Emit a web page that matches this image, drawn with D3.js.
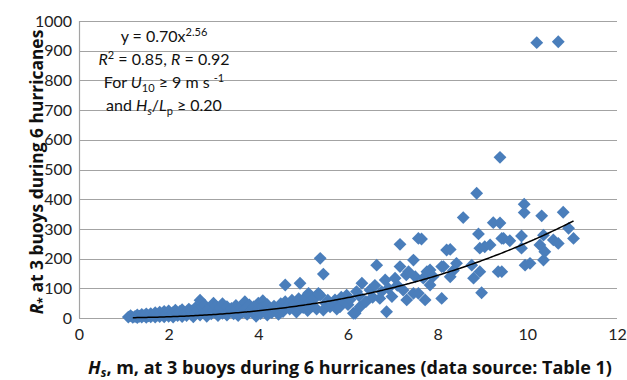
<!DOCTYPE html>
<html>
<head>
<meta charset="utf-8">
<script src="https://cdn.jsdelivr.net/npm/d3@7"></script>
<style>
  body { margin: 0; background: #fff; }
  svg text { font-family: Lato, "Open Sans", sans-serif; }
</style>
</head>
<body>
<div id="container"></div>
<script>
// Hs (m) and R*, in pairs
var hs = [
  1.10,1.15,1.20,1.25,1.30,1.30,1.35,1.40,1.40,1.45,1.50,1.50,1.55,1.60,1.60,1.65,1.70,1.70,1.75,1.80,
  1.80,1.85,1.90,1.90,1.95,2.00,2.00,2.05,2.10,2.10,2.15,2.20,2.20,2.25,2.30,2.30,2.35,2.40,2.40,2.45,
  2.50,2.50,2.55,2.60,2.60,2.70,2.65,2.70,2.75,2.80,2.80,2.85,2.90,2.95,3.00,3.00,3.05,3.10,3.10,3.15,
  3.20,3.20,3.25,3.30,3.30,3.35,3.40,3.45,3.50,3.50,3.55,3.60,3.65,3.70,3.70,3.75,3.80,3.85,3.90,3.90,
  3.95,4.00,4.00,4.05,4.10,4.10,4.15,4.20,4.20,4.25,4.30,4.35,4.40,4.45,4.50,4.50,
  4.60,4.55,4.60,4.65,4.70,4.75,4.80,4.85,4.93,4.90,5.00,5.00,5.05,5.12,5.10,5.15,5.20,5.25,5.30,5.34,
  5.38,5.45,5.45,5.38,5.50,5.60,5.55,5.71,5.65,5.75,5.82,5.85,5.90,5.97,6.00,
  6.05,6.12,6.16,6.19,6.27,6.31,6.25,6.40,6.49,6.55,6.64,6.60,6.71,6.75,6.83,6.86,6.90,6.98,7.05,7.10,
  7.16,7.16,7.23,7.30,7.31,7.35,7.46,7.46,7.50,7.57,7.57,7.64,7.68,7.72,7.76,7.83,7.83,7.90,
  8.09,8.09,8.13,8.20,8.28,8.28,8.42,8.35,8.57,8.76,8.80,8.87,8.91,8.94,8.94,8.98,9.05,9.17,9.24,9.35,
  9.39,9.39,9.43,9.43,9.47,9.61,9.87,9.87,9.93,9.93,9.95,10.06,10.21,10.28,10.32,10.36,10.36,10.39,10.58,10.69,
  10.69,10.80,10.92,11.03
];
var rstar = [
  3,8,2,5,10,1,6,12,3,8,2,14,7,4,15,9,3,18,10,5,
  20,12,4,22,14,6,24,11,3,19,26,8,15,22,5,28,14,20,8,30,
  12,24,4,18,35,60,26,10,38,44,20,6,30,14,50,26,40,8,20,34,
  48,16,28,10,38,22,32,14,42,26,8,36,20,55,30,12,44,26,18,38,
  6,50,30,15,58,36,24,10,45,30,18,40,28,12,48,34,
  111,22,55,40,30,60,45,20,117,65,49,35,70,83,25,55,40,65,30,83,
  201,148,27,77,50,38,60,61,45,30,38,70,55,77,45,
  62,16,16,89,38,117,75,55,94,70,178,110,66,89,128,21,100,72,134,110,
  248,173,94,145,61,156,195,83,139,268,83,266,134,61,156,162,111,140,
  66,173,173,229,231,139,184,160,338,178,134,420,283,235,156,85,240,246,321,156,
  320,541,268,156,268,260,276,235,383,355,178,184,927,246,344,279,195,223,263,930,
  251,356,302,268
];
var xTicks = [0, 2, 4, 6, 8, 10, 12];
var yTicks = [0, 100, 200, 300, 400, 500, 600, 700, 800, 900, 1000];
// power fit shown on the chart: y = a x^b
var fitA = 0.70, fitB = 2.56;
var fitRange = [1.2, 11.03];

var W = 627, H = 380;
var margin = {left: 79, right: 10, top: 21, bottom: 62};

var svg = d3.select("#container").append("svg")
  .attr("width", W).attr("height", H);

var x = d3.scaleLinear().domain([0, 12]).range([margin.left, W - margin.right]);
var y = d3.scaleLinear().domain([0, 1000]).range([H - margin.bottom, margin.top]);

// gridlines
svg.append("g")
  .selectAll("line")
  .data(yTicks)
  .enter().append("line")
  .attr("x1", x(0)).attr("x2", x(12))
  .attr("y1", function(d) { return Math.round(y(d)) + 0.5; })
  .attr("y2", function(d) { return Math.round(y(d)) + 0.5; })
  .attr("stroke", "#a3a3a3")
  .attr("stroke-width", 1.2);

// left axis line
svg.append("line")
  .attr("x1", Math.round(x(0)) + 0.5).attr("x2", Math.round(x(0)) + 0.5)
  .attr("y1", y(1000)).attr("y2", y(0))
  .attr("stroke", "#a3a3a3").attr("stroke-width", 1.2);

// tick labels
var yAxis = d3.axisLeft(y).tickValues(yTicks).tickSize(0).tickPadding(7).tickFormat(d3.format("d"));
var gy = svg.append("g").attr("transform", "translate(" + x(0) + ",0)").call(yAxis);
gy.select(".domain").remove();
gy.selectAll("text").style("font-size", "16px").attr("fill", "#222");

var xAxis = d3.axisBottom(x).tickValues(xTicks).tickSize(0).tickPadding(11);
var gx = svg.append("g").attr("transform", "translate(0," + y(0) + ")").call(xAxis);
gx.select(".domain").remove();
gx.selectAll("text").style("font-size", "16px").attr("fill", "#222");

// points
var pts = hs.map(function(d, i) { return [d, rstar[i]]; });
svg.append("g")
  .selectAll("path")
  .data(pts)
  .enter().append("path")
  .attr("d", d3.symbol().type(d3.symbolDiamond2).size(105))
  .attr("transform", function(d) { return "translate(" + x(d[0]) + "," + y(d[1]) + ")"; })
  .attr("fill", "#4a7ebb");

// fit curve
var fitX = d3.range(fitRange[0], fitRange[1], 0.05).concat([fitRange[1]]);
var line = d3.line()
  .x(function(d) { return x(d); })
  .y(function(d) { return y(fitA * Math.pow(d, fitB)); })
  .curve(d3.curveMonotoneX);
svg.append("path")
  .datum(fitX)
  .attr("d", line)
  .attr("fill", "none")
  .attr("stroke", "#000")
  .attr("stroke-width", 1.5);

// annotation
var ann = svg.append("text")
  .attr("text-anchor", "middle")
  .style("font-size", "16px")
  .attr("fill", "#111");
var cx = 164;
var l1 = ann.append("tspan").attr("x", cx).attr("y", 42);
l1.append("tspan").text("y = 0.70x");
l1.append("tspan").attr("dy", -6).style("font-size", "11px").text("2.56");

var l2 = ann.append("tspan").attr("x", cx).attr("y", 65);
l2.append("tspan").style("font-style", "italic").text("R");
l2.append("tspan").attr("dy", -6).style("font-size", "11px").text("2");
l2.append("tspan").attr("dy", 6).text(" = 0.85, ");
l2.append("tspan").style("font-style", "italic").text("R");
l2.append("tspan").text(" = 0.92");

var l3 = ann.append("tspan").attr("x", cx).attr("y", 88);
l3.append("tspan").text("For ");
l3.append("tspan").style("font-style", "italic").text("U");
l3.append("tspan").attr("dy", 4).style("font-size", "11px").text("10");
l3.append("tspan").attr("dy", -4).text(" \u2265 9 m s ");
l3.append("tspan").attr("dy", -6).style("font-size", "11px").text("-1");

var l4 = ann.append("tspan").attr("x", cx).attr("y", 111);
l4.append("tspan").text("and ");
l4.append("tspan").style("font-style", "italic").text("H");
l4.append("tspan").attr("dy", 4).style("font-size", "11px").style("font-style", "italic").text("s");
l4.append("tspan").attr("dy", -4).text("/");
l4.append("tspan").style("font-style", "italic").text("L");
l4.append("tspan").attr("dy", 4).style("font-size", "11px").text("p");
l4.append("tspan").attr("dy", -4).text(" \u2265 0.20");

// axis titles
var xt = svg.append("text")
  .attr("x", 350).attr("y", 374)
  .attr("text-anchor", "middle")
  .style("font-family", "'Open Sans', sans-serif")
  .style("font-size", "18px").style("font-weight", "bold")
  .attr("fill", "#111");
xt.append("tspan").style("font-style", "italic").text("H");
xt.append("tspan").attr("dy", 3).style("font-size", "12px").style("font-style", "italic").text("s");
xt.append("tspan").attr("dy", -3).text(", m, at 3 buoys during 6 hurricanes (data source: Table 1)");

var yt = svg.append("text")
  .attr("transform", "translate(43,172) rotate(-90)")
  .attr("text-anchor", "middle")
  .style("font-family", "'Open Sans', sans-serif")
  .style("font-size", "17.4px").style("font-weight", "bold")
  .attr("fill", "#111");
yt.append("tspan").style("font-style", "italic").text("R");
yt.append("tspan").attr("dy", 4).style("font-size", "12px").text("*");
yt.append("tspan").attr("dy", -4).text(" at 3 buoys during 6 hurricanes");
</script>
</body>
</html>
